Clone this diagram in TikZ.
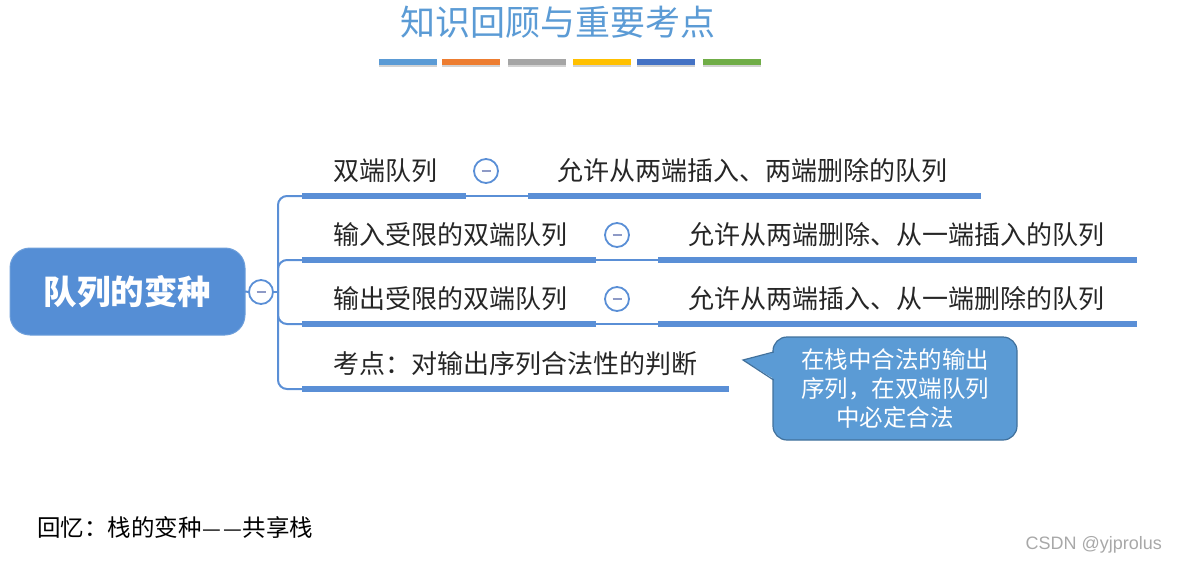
\documentclass[tikz,border=0pt]{standalone}
\usepackage{fontspec}
\newfontfamily\cjk{Noto Sans CJK SC}
\setsansfont{Liberation Sans}
\usetikzlibrary{shadows}
\definecolor{lineblue}{HTML}{5A8FD6}
\definecolor{rootblue}{HTML}{558ED5}
\definecolor{titleblue}{HTML}{5B9BD5}
\definecolor{calloutfill}{HTML}{5B9BD5}
\definecolor{calloutborder}{HTML}{41719C}
\definecolor{textdark}{HTML}{262626}
\definecolor{minusgray}{HTML}{8E9AC6}
\definecolor{barA}{HTML}{5B9BD5}
\definecolor{barB}{HTML}{ED7D31}
\definecolor{barC}{HTML}{A5A5A5}
\definecolor{barD}{HTML}{FFC000}
\definecolor{barE}{HTML}{4472C4}
\definecolor{barF}{HTML}{70AD47}
\definecolor{wmgray}{HTML}{A8A8A8}
\newcommand{\cjkdash}{\makebox[0.88em]{\resizebox{0.8em}{!}{—}}}
\tikzset{
  every node/.style={inner sep=0pt, outer sep=0pt},
  titletext/.style={font=\cjk\fontsize{35}{40}\selectfont, text=titleblue, text height=30.8pt, text depth=4.2pt},
  bar/.style={minimum width=58pt, minimum height=6pt, drop shadow={shadow xshift=0pt, shadow yshift=-2pt, opacity=.35}},
  rootbox/.style={fill=rootblue, draw=rootblue!85!white, line width=1pt, rounded corners=20pt, minimum width=235pt, minimum height=87pt, text=white, font=\cjk\bfseries\fontsize{33.5}{38}\selectfont},
  topic/.style={anchor=west, font=\cjk\fontsize{26}{30}\selectfont, text=textdark, text height=22.9pt, text depth=3.1pt},
  tog/.style={circle, draw=lineblue, line width=1.8pt, fill=white, minimum size=24pt},
  minusbar/.style={draw=minusgray, line width=1.6pt},
  trunk/.style={draw=lineblue, line width=2pt},
  underline/.style={draw=lineblue, line width=5.5pt},
  thinlink/.style={draw=lineblue, line width=1.8pt},
  calloutbox/.style={fill=calloutfill, draw=calloutborder, line width=1.2pt, rounded corners=14pt, minimum width=244pt, minimum height=103pt, text=white, align=center, font=\cjk\fontsize{23.5}{29}\selectfont},
  memotext/.style={anchor=west, font=\cjk\fontsize{23.5}{28}\selectfont, text=black, text height=20.7pt, text depth=2.8pt},
  wmtext/.style={anchor=east, font=\sffamily\fontsize{18}{21}\selectfont, text=wmgray},
}
\begin{document}
\begin{tikzpicture}[x=1pt,y=-1pt]
\useasboundingbox (0,0) rectangle (1177,565);
% title
\node[titletext] (title) at (558,22) {知识回顾与重要考点};
\node[bar, fill=barA] (bar1) at (408,61.5) {};
\node[bar, fill=barB] (bar2) at (471,61.5) {};
\node[bar, fill=barC] (bar3) at (537,61.5) {};
\node[bar, fill=barD] (bar4) at (602,61.5) {};
\node[bar, fill=barE] (bar5) at (666,61.5) {};
\node[bar, fill=barF] (bar6) at (732,61.5) {};
% root
\node[rootbox] (root) at (127.5,291.5) {队列的变种};
\node[tog] (c0) at (261,292) {};
\draw[minusbar] ([xshift=-4.5pt]c0.center) -- ([xshift=4.5pt]c0.center);
\coordinate (hub) at (278,292);
\draw[trunk] (root.east) -- (c0.west);
\draw[trunk] (c0.east) -- (hub);
% branch anchors
\coordinate (s1) at (302,196); \coordinate (e1) at (466,196); \coordinate (f1) at (528,196); \coordinate (g1) at (981,196);
\coordinate (s2) at (302,260); \coordinate (e2) at (596,260); \coordinate (f2) at (658,260); \coordinate (g2) at (1137,260);
\coordinate (s3) at (302,324); \coordinate (e3) at (596,324); \coordinate (f3) at (658,324); \coordinate (g3) at (1137,324);
\coordinate (s4) at (302,389); \coordinate (e4) at (729,389);
\draw[trunk, rounded corners=9pt] (hub) |- (s1);
\draw[trunk, rounded corners=9pt] (hub) |- (s2);
\draw[trunk, rounded corners=9pt] (hub) |- (s3);
\draw[trunk, rounded corners=9pt] (hub) |- (s4);
% row 1
\draw[underline] (s1) -- (e1);
\draw[thinlink] (e1) -- (f1);
\draw[underline] (f1) -- (g1);
\node[topic] (n1) at (333,171) {双端队列};
\node[tog] (t1) at (486,171) {};
\draw[minusbar] ([xshift=-4.5pt]t1.center) -- ([xshift=4.5pt]t1.center);
\node[topic] (d1) at (557,171) {允许从两端插入、两端删除的队列};
% row 2
\draw[underline] (s2) -- (e2);
\draw[thinlink] (e2) -- (f2);
\draw[underline] (f2) -- (g2);
\node[topic] (n2) at (333,235) {输入受限的双端队列};
\node[tog] (t2) at (617,235) {};
\draw[minusbar] ([xshift=-4.5pt]t2.center) -- ([xshift=4.5pt]t2.center);
\node[topic] (d2) at (688,235) {允许从两端删除、从一端插入的队列};
% row 3
\draw[underline] (s3) -- (e3);
\draw[thinlink] (e3) -- (f3);
\draw[underline] (f3) -- (g3);
\node[topic] (n3) at (333,299) {输出受限的双端队列};
\node[tog] (t3) at (617,299) {};
\draw[minusbar] ([xshift=-4.5pt]t3.center) -- ([xshift=4.5pt]t3.center);
\node[topic] (d3) at (688,299) {允许从两端插入、从一端删除的队列};
% row 4
\draw[underline] (s4) -- (e4);
\node[topic] (n4) at (333,364) {考点：对输出序列合法性的判断};
% callout
\node[calloutbox] (note) at (895,388.5) {在栈中合法的输出\\序列，在双端队列\\中必定合法};
\coordinate (tip) at (743,360);
\coordinate (pa) at (773.6,352);
\coordinate (pb) at (773.6,380);
\fill[calloutfill] ([xshift=2pt]pa) -- (tip) -- ([xshift=2pt]pb) -- cycle;
\draw[calloutborder, line width=1.2pt, line join=miter] (pa) -- (tip) -- (pb);
% bottom texts
\node[memotext] (memo) at (37,528) {回忆：栈的变种\cjkdash\cjkdash 共享栈};
\node[wmtext] (wm) at (1162,545) {CSDN @yjprolus};
\end{tikzpicture}
\end{document}
